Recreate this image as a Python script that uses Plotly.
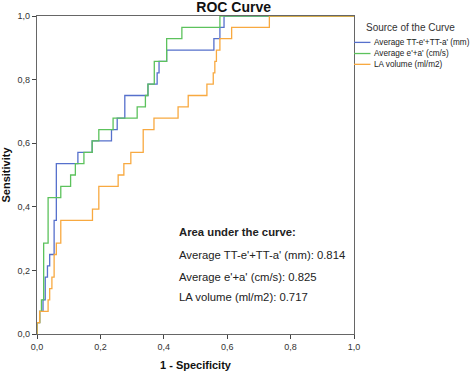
import plotly.graph_objects as go

# ---- data ----
series_names = ["Average TT-e'+TT-a' (mm)", "Average e'+a' (cm/s)", "LA volume (ml/m2)"]
auc_values = [0.814, 0.825, 0.717]

blue_fpr = [0, 0, 0.0085, 0.019, 0.026, 0.033, 0.040, 0.054, 0.061, 0.129, 0.174, 0.235,
            0.253, 0.277, 0.350, 0.379, 0.385, 0.409, 0.558, 0.577, 0.590, 1.0]
blue_tpr = [0, 0.036, 0.071, 0.107, 0.179, 0.214, 0.250, 0.357, 0.536, 0.571, 0.607, 0.643,
            0.679, 0.750, 0.786, 0.821, 0.857, 0.893, 0.929, 0.964, 1.0, 1.0]

green_fpr = [0, 0, 0.0085, 0.014, 0.021, 0.035, 0.075, 0.106, 0.121, 0.148, 0.174, 0.195,
             0.240, 0.316, 0.342, 0.350, 0.370, 0.409, 0.457, 0.577, 1.0]
green_tpr = [0, 0.036, 0.071, 0.107, 0.286, 0.429, 0.464, 0.500, 0.536, 0.571, 0.607, 0.643,
             0.679, 0.714, 0.750, 0.786, 0.857, 0.929, 0.964, 1.0, 1.0]

orange_fpr = [0, 0, 0.0085, 0.035, 0.040, 0.047, 0.054, 0.061, 0.075, 0.175, 0.195, 0.256,
              0.274, 0.296, 0.335, 0.369, 0.445, 0.477, 0.536, 0.556, 0.561, 0.566, 0.577,
              0.614, 0.733, 1.0]
orange_tpr = [0, 0.036, 0.071, 0.107, 0.143, 0.179, 0.250, 0.286, 0.357, 0.393, 0.464, 0.500,
              0.536, 0.571, 0.643, 0.679, 0.714, 0.750, 0.786, 0.821, 0.857, 0.893, 0.929,
              0.964, 1.0, 1.0]

tick_vals = [0, 0.2, 0.4, 0.6, 0.8, 1.0]
tick_text = ["0,0", "0,2", "0,4", "0,6", "0,8", "1,0"]

colors = ["#5670cc", "#5cc25c", "#f8a940"]
FONT = "Liberation Sans, Arial, sans-serif"

fig = go.Figure()
for fpr, tpr, name, col in zip([blue_fpr, green_fpr, orange_fpr],
                               [blue_tpr, green_tpr, orange_tpr],
                               series_names, colors):
    fig.add_trace(go.Scatter(x=fpr, y=tpr, mode="lines", name=name,
                             line=dict(color=col, width=1.3, shape="hv"),
                             showlegend=False, hoverinfo="skip", cliponaxis=False))

# manual legend (to the right of the plot)
fig.add_annotation(x=1.033, y=0.965, xref="paper", yref="paper", text="Source of the Curve",
                   showarrow=False, xanchor="left", yanchor="middle",
                   font=dict(family=FONT, size=10, color="#333"))
leg_y = [0.917, 0.882, 0.848]
for name, col, yy in zip(series_names, colors, leg_y):
    fig.add_shape(type="line", xref="paper", yref="paper", x0=1.0, x1=1.052, y0=yy, y1=yy,
                  line=dict(color=col, width=1.3))
    fig.add_annotation(x=1.056, y=yy, xref="paper", yref="paper", text=name, showarrow=False,
                       xanchor="left", yanchor="middle",
                       font=dict(family=FONT, size=8.2, color="#222"))

# AUC annotation
auc_lines = ["<b>Area under the curve:</b>"] + [f"{n}: {v:.3f}" for n, v in zip(series_names, auc_values)]
auc_y = [0.321, 0.248, 0.179, 0.116]
for txt, yy in zip(auc_lines, auc_y):
    fig.add_annotation(x=0.441, y=yy, xref="x", yref="y", text=txt, showarrow=False,
                       xanchor="left", yanchor="middle",
                       font=dict(family=FONT, size=11.3, color="#222"))

axis_common = dict(range=[0, 1], tickvals=tick_vals, ticktext=tick_text, showgrid=False,
                   zeroline=False, showline=True, linecolor="#666", linewidth=1.2, mirror=True,
                   ticks="outside", ticklen=4, tickcolor="#444", automargin=False,
                   tickfont=dict(family=FONT, size=9, color="#333"))

fig.update_layout(
    width=472, height=372,
    margin=dict(l=37, r=118, t=16, b=38, autoexpand=False),
    paper_bgcolor="white", plot_bgcolor="white",
    title=dict(text="<b>ROC Curve</b>", x=0.495, xanchor="center", y=0.982, yanchor="middle",
               font=dict(family=FONT, size=14, color="#111")),
    xaxis=dict(axis_common, title=dict(text="<b>1 - Specificity</b>", standoff=10,
                                       font=dict(family=FONT, size=11, color="#111"))),
    yaxis=dict(axis_common, title=dict(text="<b>Sensitivity</b>", standoff=4,
                                       font=dict(family=FONT, size=11, color="#111"))),
)

fig.write_html("out.html", config={"displayModeBar": False},
               post_script="document.body.style.margin='0px';")
